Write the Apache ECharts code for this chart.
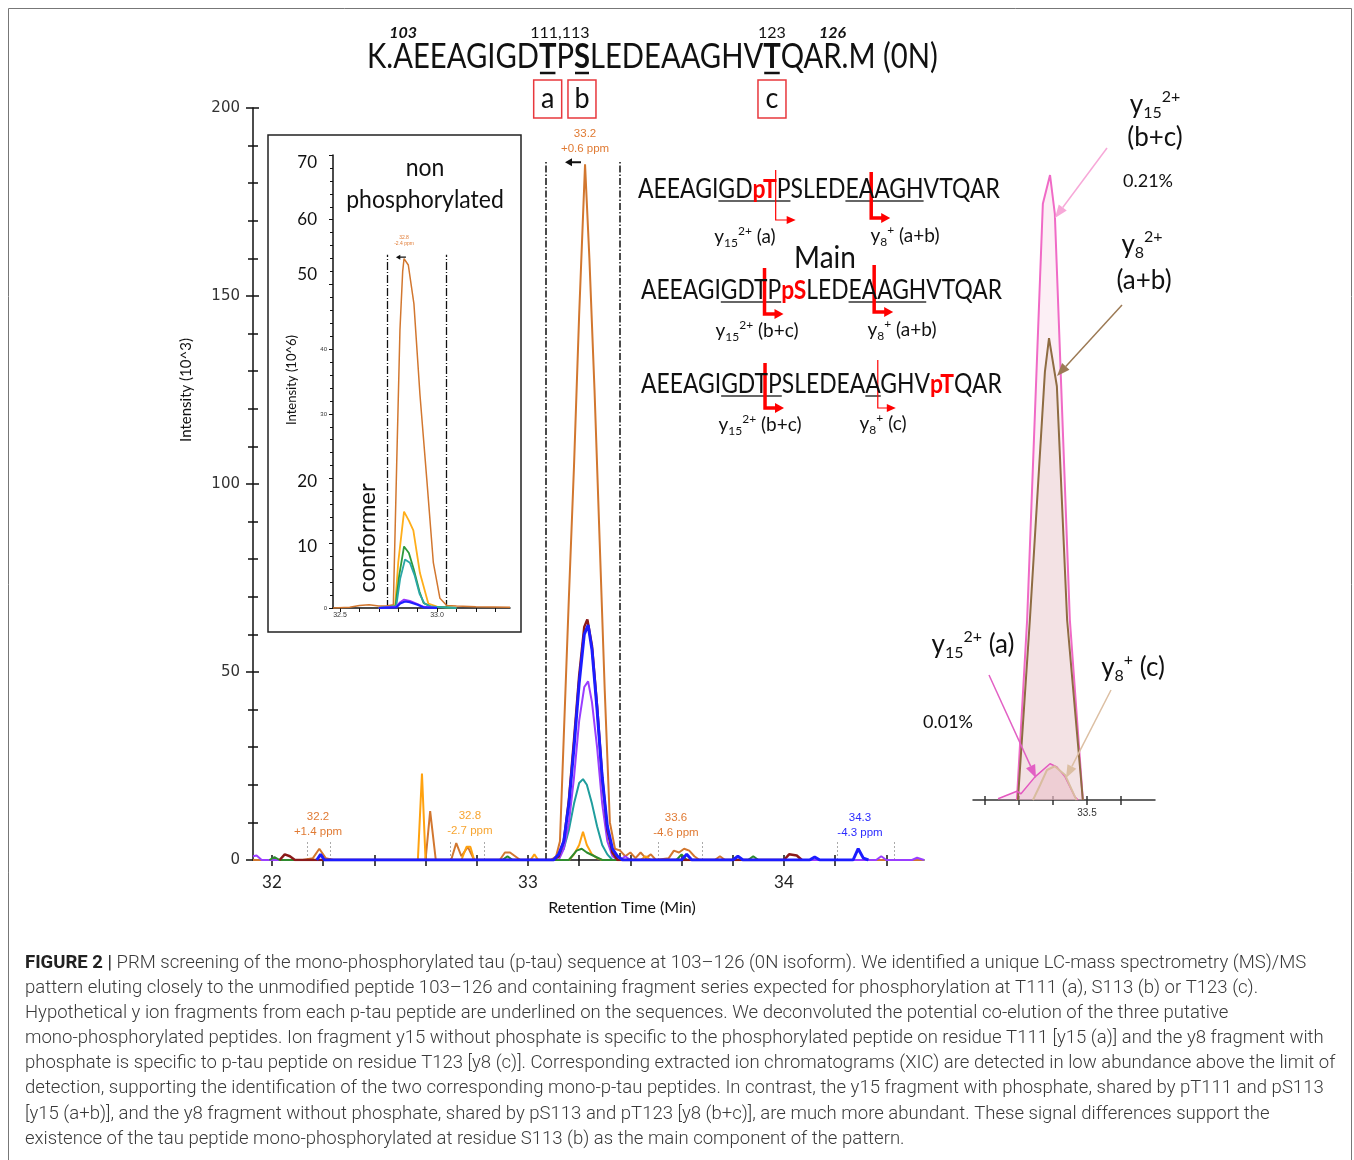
<!DOCTYPE html>
<html><head><meta charset="utf-8">
<script src="https://cdn.jsdelivr.net/npm/echarts@6/dist/echarts.min.js"></script>
<style>html,body{margin:0;padding:0;background:#fff}#c{width:1354px;height:1160px}</style>
</head><body><div id="c"></div><script>
// ===== DATA =====
// Main chromatogram (x: retention time min, y: intensity 10^3)
const mainXTicks = [32, 32.2, 32.4, 32.6, 32.8, 33, 33.2, 33.4, 33.6, 33.8, 34, 34.2, 34.4];
const mainXLabels = [32, 33, 34];
const mainYTicks = [0, 50, 100, 150, 200];
const mainOrange = [[31.926,0],[32.12,0],[32.16,0.5],[32.185,3],[32.21,0.5],[32.24,0],[32.60,0],[32.618,13],[32.64,0],[32.70,0],[32.72,4.5],[32.74,1],[32.765,3.5],[32.79,0],[32.89,0],[32.91,2],[32.93,2],[32.95,1],[32.97,0],[33.09,0],[33.11,1],[33.125,5],[33.14,33],[33.16,70],[33.18,105],[33.20,145],[33.223,185],[33.24,160],[33.26,125],[33.28,85],[33.30,45],[33.32,10],[33.34,3],[33.36,2.5],[33.38,1],[33.40,2],[33.42,0.5],[33.44,2],[33.46,0.5],[33.48,1.5],[33.50,0],[33.55,0.5],[33.57,2.5],[33.59,2],[33.61,3],[33.63,2.5],[33.65,1],[33.67,0],[33.73,0],[33.75,1],[33.77,0],[34.547,0]];
const mainYellow = [[32.57,0],[32.586,23],[32.60,0],[32.74,0],[32.76,3.5],[32.775,3.5],[32.79,0],[33.01,0],[33.025,1.5],[33.04,0],[33.16,0],[33.18,1.5],[33.20,4],[33.215,7.5],[33.23,4],[33.25,1.5],[33.27,0.5],[33.29,0],[33.44,0],[33.46,1],[33.48,0]];
const mainTeal = [[33.10,0],[33.12,1],[33.14,3],[33.16,8],[33.18,15],[33.20,20.5],[33.215,21.5],[33.23,20],[33.25,15],[33.27,9],[33.29,4],[33.31,1.5],[33.33,0]];
const mainPurple = [[31.926,1],[31.94,1.2],[31.96,0],[33.12,0],[33.14,3],[33.16,10],[33.18,22],[33.20,37],[33.22,46],[33.235,47.5],[33.25,42],[33.27,30],[33.29,15],[33.31,5],[33.33,1],[33.35,0],[33.36,0],[33.38,1],[33.40,0],[34.36,0],[34.38,1],[34.40,0],[34.50,0],[34.52,0.6],[34.547,0]];
const mainGreen = [[31.99,0],[32.01,0.8],[32.03,0],[32.90,0],[32.92,1],[32.94,0],[33.16,0],[33.19,2.5],[33.21,3],[33.23,2],[33.26,1],[33.29,0],[33.58,0],[33.60,1.5],[33.62,0],[33.86,0],[33.88,1],[33.90,0]];
const mainDarkRed = [[32.03,0],[32.05,1.5],[32.07,1],[32.09,0],[33.10,0],[33.12,1],[33.14,5],[33.16,16],[33.18,32],[33.20,49],[33.22,62],[33.232,64],[33.25,57],[33.27,41],[33.29,22],[33.31,8],[33.33,2],[33.35,0],[34.00,0],[34.02,1.5],[34.05,1.2],[34.07,0]];
const mainBlue = [[32.175,0],[32.19,1.5],[32.205,0],[33.10,0],[33.12,1.5],[33.14,5],[33.16,15],[33.18,30],[33.20,47],[33.22,60],[33.235,62.5],[33.25,56],[33.27,40],[33.29,22],[33.31,9],[33.33,3],[33.35,1],[33.37,0],[33.60,0],[33.62,1.5],[33.64,0],[33.80,0],[33.82,1],[33.84,0],[34.10,0],[34.12,0.8],[34.14,0],[34.27,0],[34.29,3],[34.31,0.5],[34.33,0]];
const mainPeakBounds = [33.070, 33.359];
const mainSmallBounds = [32.137, 32.227, 32.698, 32.83, 33.51, 33.68, 34.21, 34.43];
const mainPeakLabels = [
  {x:32.18, y:9.4, t:'32.2\n+1.4 ppm', c:'#e07a33'},
  {x:32.773, y:9.7, t:'32.8\n-2.7 ppm', c:'#f7a531'},
  {x:33.578, y:9.2, t:'33.6\n-4.6 ppm', c:'#e07a33'},
  {x:34.297, y:9.2, t:'34.3\n-4.3 ppm', c:'#2a2aff'},
  {x:33.223, y:191.2, t:'33.2\n+0.6 ppm', c:'#e07a33'}
];

// Inset: non phosphorylated (x: min, y: 10^6)
const insetXTicks = [32.5, 32.6, 32.7, 32.8, 32.9, 33.0, 33.1, 33.2, 33.3];
const insetXLabels = [32.5, 33.0];
const insetYLabels = [0, 10, 20, 30, 40, 50, 60, 70];
const insetOrange = [[32.464,0],[32.55,0.1],[32.60,0.4],[32.65,0.5],[32.70,0.3],[32.74,0.3],[32.775,0.5],[32.792,22],[32.809,43],[32.823,52],[32.83,54],[32.852,53],[32.881,47],[32.912,33],[32.947,20],[32.981,7],[33.015,1.5],[33.05,0.4],[33.10,0.3],[33.2,0.2],[33.376,0.1]];
const insetYellow = [[32.70,0],[32.784,0.3],[32.80,7],[32.83,14.9],[32.855,13.5],[32.878,12],[32.912,5.4],[32.955,0.7],[33.0,0.2],[33.1,0]];
const insetGreen = [[32.70,0],[32.786,0.3],[32.805,5],[32.83,9.5],[32.855,8.5],[32.88,6],[32.91,2.5],[32.93,0.8],[32.97,0.2],[33.1,0]];
const insetTeal = [[32.70,0],[32.79,0.3],[32.81,4.5],[32.835,7.5],[32.86,7],[32.885,5],[32.91,2.2],[32.935,0.7],[32.97,0.2],[33.1,0]];
const insetPurple = [[32.70,0],[32.79,0.2],[32.81,0.9],[32.83,1.3],[32.86,1.1],[32.9,0.6],[32.93,0.2],[33.0,0]];
const insetBlue = [[32.70,0],[32.79,0.1],[32.81,0.7],[32.835,1.0],[32.86,0.9],[32.9,0.5],[32.93,0.1],[33.0,0]];
const insetPeakBounds = [32.742, 33.046];

// Right inset: deconvoluted fragments (relative intensity)
const rightXTicks = [33.2, 33.3, 33.4, 33.5, 33.6];
const rightXLabels = [33.5];
const rightPinkBC = [[33.295,0],[33.325,28.8],[33.371,95.4],[33.392,100],[33.406,93.8],[33.45,28.8],[33.488,0]];
const rightBrownAB = [[33.298,0],[33.333,28.8],[33.377,68.5],[33.389,73.9],[33.412,66.2],[33.442,28.8],[33.488,0]];
const rightPinkA = [[33.240,0.2],[33.295,1.4],[33.307,1],[33.348,3.7],[33.392,5.8],[33.412,5.3],[33.436,3.7],[33.465,0.5],[33.474,0]];
const rightTanC = [[33.342,0],[33.363,2.4],[33.383,4.8],[33.406,5.4],[33.436,4],[33.465,0.5],[33.47,0]];

// ===== RENDER =====
const FAM = 'Lato';
const cv = document.createElement('canvas').getContext('2d');
function tw(t, size, fam, wt, st) { cv.font = (st||'normal') + ' ' + (wt||'normal') + ' ' + size + 'px ' + fam; return cv.measureText(t).width; }
const els = [];
function T(x, y, text, size, o) {
  o = o || {};
  els.push({type:'text', x:x, y:y, rotation:o.rot||0, scaleY:o.sy||1, z:60, style:{text:text, fontSize:size, fontFamily:o.fam||FAM, fontWeight:o.wt||'normal', fontStyle:o.it?'italic':'normal', fill:o.color||'#111', align:o.align||'center', verticalAlign:o.va||'middle', rich:o.rich}});
}
function L(x1,y1,x2,y2,color,w,dash){ els.push({type:'line', z:55, shape:{x1,y1,x2,y2}, style:{stroke:color,lineWidth:w,lineDash:dash}}); }
function arrow(x1,y1,x2,y2,color,w,hl,hw){
  const a=Math.atan2(y2-y1,x2-x1), bx=x2-hl*Math.cos(a), by=y2-hl*Math.sin(a), px=-Math.sin(a)*hw, py=Math.cos(a)*hw;
  L(x1,y1,bx,by,color,w);
  els.push({type:'polygon', z:56, shape:{points:[[x2,y2],[bx+px,by+py],[bx-px,by-py]]}, style:{fill:color}});
}
function elbow(x,yt,yb,xe,w,thick){
  const c='#ff0000';
  els.push({type:'polyline', z:56, shape:{points:[[x,yt],[x,yb],[xe-8,yb]]}, style:{stroke:c,lineWidth:w,fill:null}});
  els.push({type:'polygon', z:56, shape:{points:[[xe,yb],[xe-9,yb-(thick?5:4)],[xe-9,yb+(thick?5:4)]]}, style:{fill:c}});
}
// segments: [text,color,weight]
function seq(segs, x0, yc, W, fam, sy) {
  let tot=0; segs.forEach(s=>tot+=tw(s[0],100,fam,s[2]));
  const size = 100*W/tot;
  let x=x0; const cx=[];
  segs.forEach(s=>{
    els.push({type:'text', x:x, y:yc, scaleY:sy||1, z:60, style:{text:s[0], fontSize:size, fontFamily:fam, fontWeight:s[2], fill:s[1], align:'left', verticalAlign:'middle'}});
    for(let i=0;i<s[0].length;i++){ const l=x+tw(s[0].slice(0,i),size,fam,s[2]); const r=x+tw(s[0].slice(0,i+1),size,fam,s[2]); cx.push([l,r]); }
    x+=tw(s[0],size,fam,s[2]);
  });
  return {size:size, cx:cx};
}
function ion(x,y,sub,sup,rest,size,color){
  const s2=Math.round(size*0.62);
  T(x,y,'{a|y}{b|'+sub+'}{c|'+sup+'}{a|'+rest+'}',size,{color:color||'#111', rich:{
    a:{fontSize:size,fontFamily:FAM,lineHeight:size*1.25,fill:color||'#111'},
    b:{fontSize:s2,fontFamily:FAM,verticalAlign:'bottom',lineHeight:s2,fill:color||'#111'},
    c:{fontSize:s2,fontFamily:FAM,verticalAlign:'top',lineHeight:s2,fill:color||'#111'}}});
}

// Figure border
els.push({type:'rect', z:1, shape:{x:8.5,y:8.5,width:1343,height:1160}, style:{fill:null, stroke:'#777', lineWidth:1}});

// Top sequence
const seqTop = seq([['K.AEEAGIGD','#111','normal'],['T','#111','bold'],['P','#111','normal'],['S','#111','bold'],['LEDEAAGHV','#111','normal'],['T','#111','bold'],['QAR.M (0N)','#111','normal']], 367, 57, 571, FAM, 1.2);
const cc = i => (seqTop.cx[i][0]+seqTop.cx[i][1])/2;
[10,12,22].forEach(i=>L(seqTop.cx[i][0]+1, 73, seqTop.cx[i][1]-1, 73, '#111', 2.5));
T(cc(2), 33, '103', 16, {it:true, wt:'bold'});
T((cc(10)+cc(12))/2-5, 33, '111,113', 16);
T(cc(22), 33, '123', 16);
T(cc(25), 33, '126', 16, {it:true, wt:'bold'});
[['a',10],['b',12],['c',22]].forEach(p=>{
  const c=cc(p[1]);
  els.push({type:'rect', z:55, shape:{x:c-14,y:80,width:28,height:38}, style:{fill:null, stroke:'#e8383d', lineWidth:1.5}});
  T(c, 98, p[0], 27, {sy:1.1});
});

// Peptide annotations
const P1 = seq([['AEEAGIGD','#111','normal'],['pT','#ff0000','bold'],['PSLEDEAAGHVTQAR','#111','normal']], 638, 189, 362, FAM, 1.17);
const P2 = seq([['AEEAGIGDTP','#111','normal'],['pS','#ff0000','bold'],['LEDEAAGHVTQAR','#111','normal']], 641, 290, 361, FAM, 1.17);
const P3 = seq([['AEEAGIGDTPSLEDEAAGHV','#111','normal'],['pT','#ff0000','bold'],['QAR','#111','normal']], 641, 384, 361, FAM, 1.17);
function ul(P, a, b, y){ L(P.cx[a][0], y, P.cx[b][1], y, '#333', 1.5); }
ul(P1,6,10,201); ul(P1,15,19,201);
ul(P2,6,9,302); ul(P2,15,19,302);
ul(P3,6,9,396); ul(P3,16,16,396);
elbow(P1.cx[10][0]-1, 170, 220, P1.cx[10][0]+19, 1.2, false);
elbow(P1.cx[17][0]-3, 172, 218, P1.cx[17][0]+16, 3.5, true);
elbow(P2.cx[9][0]-3, 268, 314, P2.cx[9][0]+16, 3.5, true);
elbow(P2.cx[17][0]-3, 265, 312, P2.cx[17][0]+16, 3.5, true);
elbow(P3.cx[9][0]-3, 363, 408, P3.cx[9][0]+16, 3.5, true);
elbow(P3.cx[17][0]-3, 360, 408, P3.cx[17][0]+15, 1.2, false);
ion(745,237,'15','2+',' (a)',19);
ion(905,236,'8','+',' (a+b)',19);
T(825,258,'Main',28,{sy:1.1});
ion(757,331,'15','2+',' (b+c)',19);
ion(902,330,'8','+',' (a+b)',19);
ion(760,425,'15','2+',' (b+c)',19);
ion(883,424,'8','+',' (c)',19);

// Inset box + texts
els.push({type:'rect', z:2, shape:{x:268,y:135,width:253,height:497}, style:{fill:null, stroke:'#222', lineWidth:1.5}});
T(425,168,'non',23,{sy:1.1}); T(425,200,'phosphorylated',23,{sy:1.1});
T(367,538,'conformer',24,{rot:Math.PI/2});
T(292,380,'Intensity (10^6)',13,{rot:Math.PI/2});

// Main axis names
T(186,390,'Intensity (10^3)',15,{rot:Math.PI/2});
T(622,908,'Retention Time (Min)',16);

// Right inset labels + arrows
ion(1155,105,'15','2+','',26); T(1155,138,'(b+c)',26);
T(1148,181,'0.21%',18);
ion(1142,245,'8','2+','',26); T(1144,281,'(a+b)',26);
ion(973,645,'15','2+',' (a)',26);
ion(1133,668,'8','+',' (c)',26);
T(948,722,'0.01%',18);
arrow(1107,148,1055,218,'#f7a8d8',1.5,13,5);
arrow(1122,305,1057,376,'#9c7a55',1.5,13,5);
arrow(989,675,1036,778,'#e260c4',1.5,13,5);
arrow(1111,690,1066,778,'#dcbfa3',1.5,13,5);

// Caption
const CF='Roboto', rest1=' PRM screening of the mono-phosphorylated tau (p-tau) sequence at 103\u2013126 (0N isoform). We identified a unique LC-mass spectrometry (MS)/MS';
const w100 = tw('FIGURE 2',100,CF,'bold') + tw(' |',100,CF,'normal') + tw(rest1,100,CF,'300');
const cs = 100*1282/w100;
const capLines = [
 null,
 'pattern eluting closely to the unmodified peptide 103\u2013126 and containing fragment series expected for phosphorylation at T111 (a), S113 (b) or T123 (c).',
 'Hypothetical y ion fragments from each p-tau peptide are underlined on the sequences. We deconvoluted the potential co-elution of the three putative',
 'mono-phosphorylated peptides. Ion fragment y15 without phosphate is specific to the phosphorylated peptide on residue T111 [y15 (a)] and the y8 fragment with',
 'phosphate is specific to p-tau peptide on residue T123 [y8 (c)]. Corresponding extracted ion chromatograms (XIC) are detected in low abundance above the limit of',
 'detection, supporting the identification of the two corresponding mono-p-tau peptides. In contrast, the y15 fragment with phosphate, shared by pT111 and pS113',
 '[y15 (a+b)], and the y8 fragment without phosphate, shared by pS113 and pT123 [y8 (b+c)], are much more abundant. These signal differences support the',
 'existence of the tau peptide mono-phosphorylated at residue S113 (b) as the main component of the pattern.'
];
T(25,963,'FIGURE 2',cs,{fam:CF,wt:'bold',align:'left',color:'#222'});
const fx = 25+tw('FIGURE 2',cs,CF,'bold');
T(fx,963,' |',cs,{fam:CF,align:'left',color:'#222'});
T(fx+tw(' |',cs,CF,'normal'),963,rest1,cs,{fam:CF,wt:'300',align:'left',color:'#3a3a3a'});
for(let i=1;i<8;i++) T(25,963+i*25.15,capLines[i],cs,{fam:CF,wt:'300',align:'left',color:'#3a3a3a'});

// ===== CHART =====
const tickStyle = {color:'#111', width:1.5};
function lineS(data, color, w, xi, yi, extra){
  return Object.assign({type:'line', data:data, xAxisIndex:xi, yAxisIndex:yi, symbol:'none', smooth:false, lineStyle:{color:color,width:w}, itemStyle:{color:color}, z:5}, extra||{});
}
const mp = mainPeakLabels.map(p=>({coord:[p.x,p.y], symbol:'circle', symbolSize:1, itemStyle:{color:'rgba(0,0,0,0)'}, label:{show:true, position:'inside', formatter:p.t, color:p.c, fontSize:11.5, lineHeight:15, fontFamily:'Liberation Sans'}}));
mp.push({coord:[33.176,185.6], symbol:'path://M0,4 L7,0 L7,3 L16,3 L16,5 L7,5 L7,8 Z', symbolSize:[16,8], itemStyle:{color:'#111'}, label:{show:false}});

const insetLabelFmt = v => {
  if (v===30||v===40||v===0) return '{s|'+v+'}';
  if (v===70) return '{b70|70}';
  if (v===50) return '{b50|50}';
  if (v===10||v===20) return '{b2|'+v+'}';
  return '{b|'+v+'}';
};
const bigL = {fontSize:17, fontFamily:FAM, color:'#111'};

const option = {
  animation:false,
  grid:[
    {left:253, top:108, width:671, height:752, containLabel:false, outerBoundsMode:'none'},
    {left:333, top:155, width:177, height:453, containLabel:false, outerBoundsMode:'none'},
    {left:973, top:175, width:182, height:625, containLabel:false, outerBoundsMode:'none'}
  ],
  xAxis:[
    {gridIndex:0, type:'value', min:31.926, max:34.547, position:'bottom', axisLine:{lineStyle:tickStyle}, axisTick:{customValues:mainXTicks, length:6, lineStyle:tickStyle}, axisLabel:{customValues:mainXLabels, fontSize:17, fontFamily:FAM, color:'#222', margin:14}, splitLine:{show:false}},
    {gridIndex:0, type:'value', min:31.926, max:34.547, position:'bottom', axisLine:{show:false}, axisTick:{inside:true, customValues:mainXTicks, length:5, lineStyle:tickStyle}, axisLabel:{show:false}, splitLine:{show:false}},
    {gridIndex:1, type:'value', min:32.464, max:33.376, position:'bottom', axisLine:{lineStyle:{color:'#111',width:1.5}}, axisTick:{customValues:insetXTicks, length:4, lineStyle:{color:'#111'}}, axisLabel:{customValues:insetXLabels, formatter:v=>v.toFixed(1), fontSize:7, color:'#333', margin:4}, splitLine:{show:false}},
    {gridIndex:2, type:'value', min:33.1667, max:33.699, position:'bottom', axisLine:{lineStyle:{color:'#333',width:1.5}}, axisTick:{customValues:rightXTicks, length:5, lineStyle:{color:'#333',width:1.5}}, axisLabel:{customValues:rightXLabels, formatter:v=>v.toFixed(1), fontSize:10, color:'#333', margin:8, fontFamily:'Liberation Sans'}, splitLine:{show:false}},
    {gridIndex:2, type:'value', min:33.1667, max:33.699, position:'bottom', axisLine:{show:false}, axisTick:{inside:true, customValues:rightXTicks, length:4, lineStyle:{color:'#333',width:1.5}}, axisLabel:{show:false}, splitLine:{show:false}}
  ],
  yAxis:[
    {gridIndex:0, type:'value', position:'left', min:0, max:200, interval:50, axisLine:{show:true, lineStyle:tickStyle}, axisTick:{show:true, length:7, lineStyle:tickStyle}, minorTick:{show:true, splitNumber:5, length:5, lineStyle:tickStyle}, axisLabel:{customValues:mainYTicks, fontSize:15, fontFamily:'DejaVu Sans', color:'#333', margin:13}, splitLine:{show:false}},
    {gridIndex:0, type:'value', position:'left', min:0, max:200, interval:50, axisLine:{show:false}, axisTick:{show:true, inside:true, length:6, lineStyle:tickStyle}, minorTick:{show:true, splitNumber:5, length:5, lineStyle:tickStyle}, axisLabel:{show:false}, splitLine:{show:false}},
    {gridIndex:1, type:'value', position:'left', min:0, max:70, interval:10, axisLine:{show:true, lineStyle:{color:'#111',width:1.5}}, axisTick:{show:true, length:4, lineStyle:{color:'#111'}}, minorTick:{show:true, splitNumber:5, length:3, lineStyle:{color:'#111'}}, axisLabel:{customValues:insetYLabels, margin:6, formatter:insetLabelFmt, rich:{
        b:Object.assign({padding:[0,10,0,0]},bigL),
        b70:Object.assign({padding:[16,10,0,0]},bigL),
        b50:Object.assign({padding:[0,10,20,0]},bigL),
        b2:Object.assign({padding:[6,10,0,0]},bigL),
        s:{fontSize:6, color:'#333'}}}, splitLine:{show:false}},
    {gridIndex:2, type:'value', min:0, max:100, show:false, splitLine:{show:false}}
  ],
  series:[
    lineS(mainOrange,'#d2772f',2,0,0,{markLine:{silent:true, symbol:'none', label:{show:false}, data:[
        ...mainPeakBounds.map(b=>[{coord:[b,0]},{coord:[b,186],lineStyle:{type:[7,2,1.5,2],color:'#111',width:1.5}}]),
        ...mainSmallBounds.map(b=>[{coord:[b,0]},{coord:[b,5],lineStyle:{type:[2,2],color:'#aaa',width:1}}])
      ]}, markPoint:{silent:true, data:mp}}),
    lineS(mainYellow,'#ffa20f',2,0,0),
    lineS(mainTeal,'#1f9d9d',2,0,0),
    lineS(mainPurple,'#9a3dff',2,0,0),
    lineS(mainGreen,'#2e8b2e',2,0,0),
    lineS(mainDarkRed,'#8b1a1a',2.5,0,0),
    lineS(mainBlue,'#1c1cff',3,0,0),
    lineS(insetOrange,'#d2772f',1.5,2,2,{markLine:{silent:true, symbol:'none', label:{show:false}, data:insetPeakBounds.map(b=>[{coord:[b,0]},{coord:[b,54.6],lineStyle:{type:[8,2,1,2],color:'#111',width:1.3}}])},
      markPoint:{silent:true, data:[{coord:[32.83,56.8], symbol:'circle', symbolSize:1, itemStyle:{color:'rgba(0,0,0,0)'}, label:{show:true, position:'inside', formatter:'32.8\n-2.4 ppm', color:'#e07a33', fontSize:5, lineHeight:6}},
        {coord:[32.814,54.2], symbol:'path://M0,4 L7,0 L7,3 L16,3 L16,5 L7,5 L7,8 Z', symbolSize:[10,5], itemStyle:{color:'#111'}, label:{show:false}}]}}),
    lineS(insetYellow,'#ffae1a',1.8,2,2),
    lineS(insetGreen,'#2e9a3c',1.8,2,2),
    lineS(insetTeal,'#2aa6a6',1.8,2,2),
    lineS(insetPurple,'#9933ff',1.8,2,2),
    lineS(insetBlue,'#2020ff',2.2,2,2),
    lineS(rightPinkBC,'#f06ac6',2,3,3,{areaStyle:{color:'rgba(246,205,222,0.45)'}}),
    lineS(rightBrownAB,'#8e6c42',2,3,3,{areaStyle:{color:'rgba(214,185,175,0.35)'}}),
    lineS(rightPinkA,'#e459c0',1.5,3,3,{areaStyle:{color:'rgba(236,160,205,0.35)'}}),
    lineS(rightTanC,'#d9bc9f',2,3,3,{areaStyle:{color:'rgba(225,195,175,0.3)'}})
  ],
  graphic:els
};
const chart = echarts.init(document.getElementById('c'), null, {renderer:'canvas'});
chart.setOption(option);
</script></body></html>
